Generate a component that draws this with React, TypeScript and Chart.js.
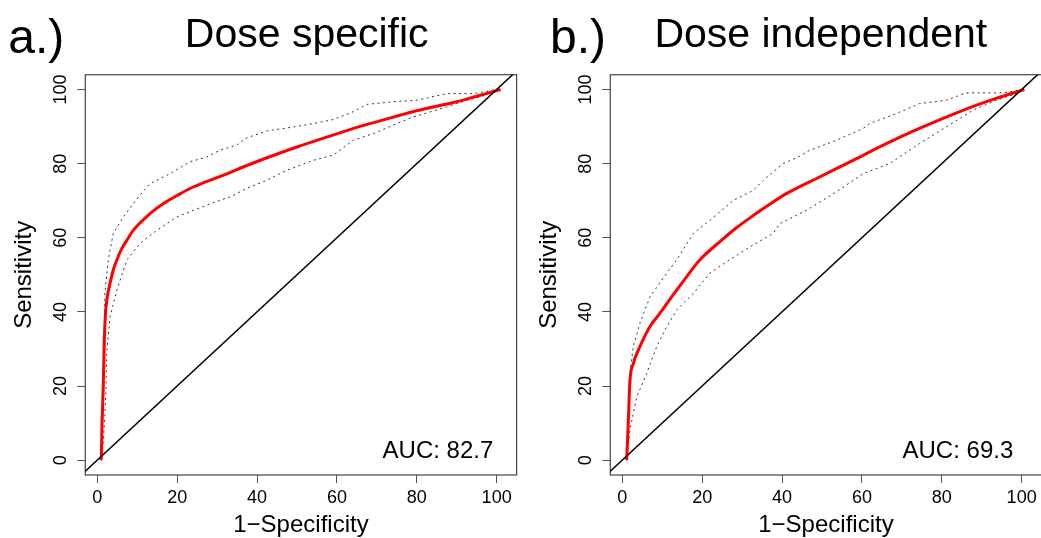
import React, { useEffect, useRef } from "react";
import { Chart, registerables } from "chart.js";

Chart.register(...registerables);

// ---------- data ----------
const tickValues = [0, 20, 40, 60, 80, 100];
const xAxisLabel = "1\u2212Specificity";
const yAxisLabel = "Sensitivity";

const diagX = [-10, 110];
const diagY = [-10, 110];

// Panel a: Dose specific
const rocAx = [1, 1.2, 1.5, 1.7, 2.0, 2.5, 3.2, 4.0, 4.9, 6.0, 7.4, 9.0, 10.7, 13.5, 16.5, 20, 23.2, 27, 31.6, 37, 43, 50, 59, 65, 71, 79, 85, 90, 95, 101];
const rocAy = [0, 10, 20, 29.7, 38.7, 44, 47.7, 51.3, 54, 56.8, 59.3, 62, 64, 66.8, 69.2, 71.4, 73.3, 75, 76.9, 79.3, 81.8, 84.5, 87.7, 89.8, 91.6, 94, 95.5, 96.7, 98.2, 100];
const upAx = [1, 1.3, 1.5, 1.7, 1.9, 2.75, 4.0, 6.5, 10.3, 13.2, 18.2, 23.2, 27.4, 30.7, 34.9, 37.0, 42.4, 49.1, 54.1, 59.1, 64.1, 67.5, 74.1, 80, 87.5, 94.2, 100, 101];
const upAy = [0, 10, 20, 30, 45, 54, 61.2, 65.6, 71, 74.6, 77.3, 80.5, 81.8, 83.6, 85, 86.8, 88.8, 89.9, 90.8, 91.9, 94, 96, 96.7, 97.1, 98.9, 98.9, 100, 100];
const loAx = [1, 1.5, 1.9, 2.2, 2.4, 3.2, 4.9, 7.4, 10.7, 14.9, 19.9, 24, 30.7, 33.2, 37.4, 42.4, 47.4, 54.1, 59.1, 64.1, 69.1, 74.1, 79.1, 87.5, 92.5, 95.8, 101];
const loAy = [0, 5, 11.7, 20, 29.7, 38.7, 45.9, 54, 58.5, 62, 65.6, 67.4, 70.1, 71, 73.3, 75.5, 78.2, 80.9, 82.3, 86.3, 88.1, 90.4, 92.6, 95.3, 97.1, 98, 100];

// Panel b: Dose independent
const rocBx = [1.1, 1.5, 1.9, 2.75, 4.4, 6.9, 9.4, 12, 15.3, 19.4, 24.4, 28.6, 32.8, 37, 41.1, 49.4, 57.8, 66.1, 74.4, 85.3, 93.6, 100.7];
const rocBy = [0, 10, 21.1, 26, 30.6, 36, 39.6, 43.5, 48.3, 54, 58.9, 62.7, 66, 69.1, 71.9, 76.4, 80.9, 85.4, 89.5, 94.4, 97.6, 100];
const upBx = [1.1, 1.5, 1.9, 2.75, 4.4, 6.9, 11.1, 13.6, 17.8, 21.9, 27.8, 32.8, 35.3, 40.3, 44.4, 46.9, 53.6, 60.3, 61.9, 68.6, 74.4, 81.1, 86.1, 95.3, 100.7];
const upBy = [0, 12, 23.4, 30.6, 36.9, 44, 50.4, 54, 61.2, 64.7, 70.1, 72.8, 75.5, 80, 82, 83.6, 86.3, 89.5, 90.8, 93.5, 96.2, 97.1, 99.1, 99.1, 100];
const loBx = [1.1, 1.9, 3.6, 6.1, 8.6, 11.1, 13.6, 17.8, 21.9, 26.1, 31.9, 37.8, 39.4, 46.1, 53.6, 60.3, 66.9, 74.4, 81.1, 87.8, 93.6, 99, 100.7];
const loBy = [0, 8.1, 17, 23.4, 30.6, 36, 40.5, 45, 50.4, 53.5, 57.5, 61.2, 63.8, 67.4, 72.4, 77.3, 80, 85.4, 89.9, 94.4, 97.1, 99, 100];

const FONT = "'Liberation Sans', Arial, Helvetica, sans-serif";

function pts(xs: number[], ys: number[]) {
  return xs.map((x, i) => ({ x, y: ys[i] }));
}

type PanelProps = {
  left: number;
  tag: string;
  title: string;
  auc: string;
  tagX: number;
  titleX: number;
  aucX: number;
  aucY: number;
  rx: number[]; ry: number[];
  ux: number[]; uy: number[];
  lx: number[]; ly: number[];
};

function Panel(p: PanelProps) {
  const ref = useRef<HTMLCanvasElement>(null);
  useEffect(() => {
    if (!ref.current) return;
    const decor = {
      id: "decor",
      beforeDatasetsDraw(chart: any) {
        const { ctx, chartArea: a } = chart;
        ctx.save();
        ctx.strokeStyle = "#444";
        ctx.lineWidth = 1.2;
        ctx.strokeRect(a.left, a.top, a.right - a.left, a.bottom - a.top);
        ctx.restore();
      },
      afterDraw(chart: any) {
        const { ctx, scales } = chart;
        ctx.save();
        ctx.fillStyle = "#000";
        ctx.textBaseline = "alphabetic";
        ctx.font = `48px ${FONT}`;
        ctx.textAlign = "left";
        ctx.fillText(p.tag, p.tagX, 53);
        ctx.font = `41px ${FONT}`;
        ctx.textAlign = "center";
        ctx.fillText(p.title, p.titleX, 47);
        ctx.font = `24px ${FONT}`;
        ctx.textAlign = "right";
        ctx.fillText(p.auc, scales.x.getPixelForValue(p.aucX), scales.y.getPixelForValue(p.aucY));
        ctx.restore();
      },
    };
    const tickFont = { family: FONT, size: 18 };
    const titleFont = { family: FONT, size: 24, lineHeight: 1.0 };
    const grid = { drawOnChartArea: false, drawTicks: true, tickLength: 8, color: "#555", lineWidth: 1 };
    const setTicks = (s: any) => {
      s.ticks = tickValues.map((v) => ({ value: v }));
    };
    const chart = new Chart(ref.current, {
      type: "scatter",
      data: {
        datasets: [
          { data: pts(diagX, diagY), showLine: true, borderColor: "#000", borderWidth: 1.5, order: 0, clip: 0 } as any,
          { data: pts(p.rx, p.ry), showLine: true, borderColor: "#ff0000", borderWidth: 3, order: 1, cubicInterpolationMode: "monotone" },
          { data: pts(p.ux, p.uy), showLine: true, borderColor: "#333", borderWidth: 1, borderDash: [2, 3.5], order: 2 },
          { data: pts(p.lx, p.ly), showLine: true, borderColor: "#333", borderWidth: 1, borderDash: [2, 3.5], order: 2 },
        ],
      },
      options: {
        animation: false,
        responsive: false,
        devicePixelRatio: 1,
        layout: { padding: { top: 74.7, right: 3.4, left: 0, bottom: 0 } },
        elements: { point: { radius: 0, hoverRadius: 0 }, line: { tension: 0 } },
        plugins: { legend: { display: false }, tooltip: { enabled: false }, title: { display: false } },
        events: [],
        scales: {
          x: {
            type: "linear",
            min: -3,
            max: 105,
            afterBuildTicks: setTicks,
            afterFit: (s: any) => { s.height = 63; },
            grid,
            border: { display: false },
            ticks: { font: tickFont, color: "#000", padding: 4, maxRotation: 0, autoSkip: false },
            title: { display: true, text: xAxisLabel, font: titleFont, color: "#000", padding: { top: 0, bottom: 0.8 } },
          },
          y: {
            type: "linear",
            min: -4,
            max: 104,
            afterBuildTicks: setTicks,
            afterFit: (s: any) => { s.width = 85.3; },
            grid,
            border: { display: false },
            ticks: { font: tickFont, color: "#000", padding: 1.3, minRotation: 90, maxRotation: 90, crossAlign: "center", autoSkip: false },
            title: { display: true, text: yAxisLabel, font: titleFont, color: "#000", padding: { top: 12.4, bottom: 0 } },
          },
        },
      } as any,
      plugins: [decor],
    });
    return () => chart.destroy();
  }, []);
  return (
    <canvas
      ref={ref}
      width={520}
      height={538}
      style={{ position: "absolute", left: p.left, top: 0, width: 520, height: 538 }}
    />
  );
}

export default function App() {
  return (
    <div style={{ position: "fixed", left: 0, top: 0, width: 1041, height: 538, overflow: "hidden", background: "#fff" }}>
      <Panel
        left={0}
        tag="a.)"
        title="Dose specific"
        auc="AUC: 82.7"
        tagX={8.3}
        titleX={306.7}
        aucX={99.17}
        aucY={0.72}
        rx={rocAx} ry={rocAy}
        ux={upAx} uy={upAy}
        lx={loAx} ly={loAy}
      />
      <Panel
        left={525}
        tag="b.)"
        title="Dose independent"
        auc="AUC: 69.3"
        tagX={25}
        titleX={295.8}
        aucX={97.9}
        aucY={0.72}
        rx={rocBx} ry={rocBy}
        ux={upBx} uy={upBy}
        lx={loBx} ly={loBy}
      />
    </div>
  );
}
